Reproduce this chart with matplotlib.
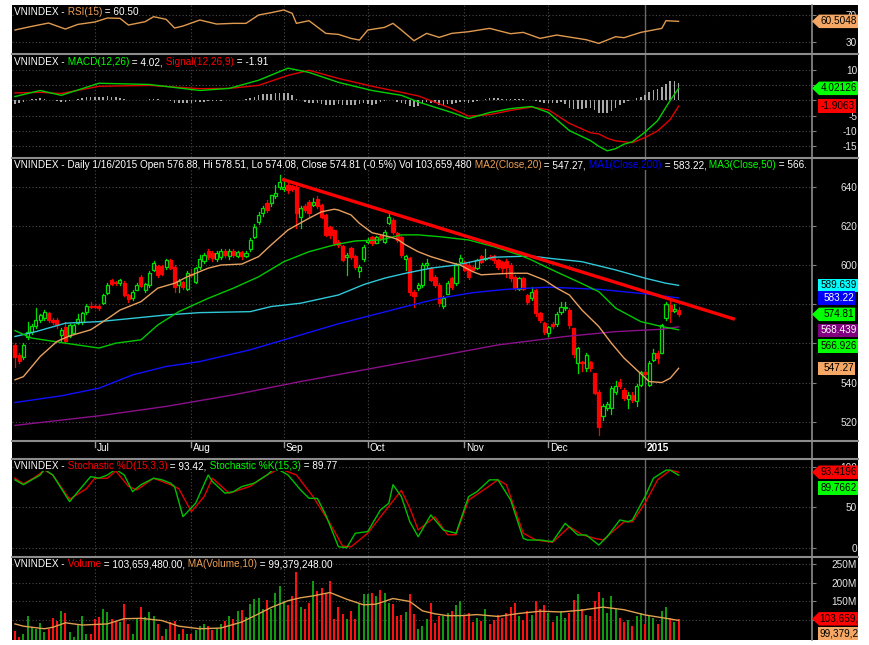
import numpy as np
import matplotlib
matplotlib.use("Agg")
import matplotlib.pyplot as plt
from matplotlib.patches import Rectangle, Polygon
from matplotlib.lines import Line2D
from matplotlib.transforms import Bbox

plt.rcParams['font.family'] = ['Liberation Sans', 'DejaVu Sans']

# ---------------- data ----------------
month_labels = ["Jul", "Aug", "Sep", "Oct", "Nov", "Dec", "2015"]
month_start = [19, 42, 64, 84, 107, 127, 150]   # bar index of first session

open_ = [559, 554, 553, 563, 566, 569, 572, 573, 575.5, 572,
         572, 564.5, 568.5, 564, 565.5, 570.5, 571, 576, 579, 579,
         579, 580.5, 585.5, 592.5, 591.5, 591, 591, 584.5, 583, 587.5,
         594, 587.5, 590, 597.5, 599.5, 599.5, 599, 602.5, 599, 590,
         591.5, 588, 595.5, 591.5, 599, 602, 607, 606, 603, 604,
         607, 604.5, 607, 604.5, 606.5, 604.5, 608, 614.5, 622, 626.4,
         631.5, 631.5, 635, 640, 639, 640.8, 640.5, 640, 624.7, 630,
         632.4, 630.7, 633.6, 630.7, 625.6, 619.6, 617.9, 612, 609.7, 604,
         608.6, 604.6, 597.1, 603, 612, 614.5, 611.4, 615, 612, 621.6,
         623, 616.2, 614.5, 603, 603.5, 586, 588.2, 590, 600, 598.5,
         594, 590, 579, 585.3, 593.3, 590.7, 601.7, 601, 600, 599,
         598.4, 604.6, 603, 604, 604.6, 602.6, 601.4, 602, 600, 594,
         587.6, 593.3, 584.7, 583, 587.3, 575.4, 570.3, 565.5, 570, 570,
         576.2, 578, 577, 567.8, 549.9, 550.5, 547.3, 550.7, 544.8, 535.4,
         522.7, 527, 526.9, 535, 540.5, 536.3, 531.5, 533.7, 530.8, 538.8,
         545.6, 538.8, 551.6, 555, 555.3, 572.9, 579.6, 576.7, 576.88]
close = [553, 551, 559, 566, 569, 572, 574.5, 576, 572, 571,
         569.5, 567, 561, 569.5, 569.5, 572.5, 575.5, 579, 578.5, 578.5,
         578, 584.5, 590, 590.5, 591, 592.5, 584.5, 582.5, 586, 590,
         589.5, 590.5, 596, 601, 595, 595.5, 602.5, 598.5, 589, 592,
         589, 596, 595, 598.5, 603, 605, 604, 603.5, 606, 607,
         605, 607, 605, 606.5, 604.5, 606, 612.8, 619.6, 625.6, 629,
         628.1, 635.8, 636.8, 642.5, 640, 638.3, 639, 626.4, 629, 628,
         626.4, 632.4, 630, 624.7, 615.4, 615.4, 611.1, 610.3, 602.6, 605,
         604, 599.2, 599, 609, 612.8, 611.1, 614.5, 614, 617, 624.7,
         617, 612.8, 605.2, 604.6, 586.4, 584.2, 590, 600, 601, 592.4,
         590, 580.5, 583, 591, 589, 600, 603.5, 597.5, 594, 597.5,
         602.6, 601.7, 603.8, 603.6, 602.6, 599.2, 598.7, 599, 593.3, 588.2,
         593.3, 587.6, 581.3, 586.4, 575.4, 572, 566, 568.3, 569, 575,
         578.5, 578.6, 569.4, 554.6, 557.6, 550, 554, 547.3, 534.6, 517.5,
         527.8, 529, 537.1, 538, 538.3, 532, 533.7, 531.2, 538, 545.6,
         544.4, 549.9, 555, 552.4, 569.4, 580.2, 576.7, 577.6, 574.81]
high = [560, 555, 560, 571, 570, 578, 575, 577, 576, 573,
        573, 568, 571, 570, 570, 575, 576, 580, 581, 580,
        580, 585, 591, 593, 592, 593, 592, 585, 587, 591,
        595, 591, 597, 602, 600, 600, 603, 603, 600, 593,
        592, 597, 598, 599, 605, 606, 608, 607, 607, 608,
        608, 608, 608, 607, 607, 607, 614, 621, 627, 630,
        633, 636, 641, 646, 644, 642, 641, 641, 630, 631,
        633, 634, 635, 631, 626, 620, 618, 613, 610, 606,
        609, 605, 600, 610, 614, 615, 615, 616, 618, 626.5,
        624, 617, 615, 605, 604, 587, 591, 601, 603, 599,
        595, 591, 584, 592, 594, 601, 605, 602, 601, 600,
        603, 605, 608, 605, 605, 603, 602, 603, 601, 595,
        594, 594, 585, 589, 588, 576, 571, 569, 571, 576,
        581, 581, 578, 568, 558, 551, 555, 551, 545, 536,
        529, 530, 538, 541, 542, 537, 535, 535, 539, 546,
        546, 551, 557, 556, 570, 581, 582, 580, 578.51]
low = [548, 550, 552, 562, 565, 568, 571, 572, 571, 570,
       568, 561, 560, 563, 565, 570, 570, 575, 578, 578,
       577, 580, 585, 590, 590, 590, 584, 581, 582, 587,
       589, 586, 589, 597, 594, 595, 598, 598, 586, 586,
       588, 587, 594, 591, 598, 601, 603, 602, 602, 603,
       604, 603, 604, 604, 603, 604, 607, 614, 621, 625,
       627, 630, 634, 639, 638, 637, 638, 619, 619, 627,
       625, 630, 629, 624, 615, 614, 610, 609, 602, 595,
       603, 598, 594, 602, 611, 610, 611, 613, 611, 621,
       616, 612, 604, 597.5, 584.7, 578.8, 587, 589, 599, 592,
       589, 579, 578, 585, 588, 590, 601, 597, 593, 597,
       598, 601, 602.5, 603, 601, 598, 596, 594, 592, 587,
       587, 587, 580, 582, 574, 571, 565, 564, 568, 569,
       575, 577, 568, 553, 545, 546, 546, 546, 534, 513.3,
       521, 526, 524, 534, 537, 531, 527, 530, 528, 538,
       543, 538, 551, 550, 555, 572, 571, 576, 574.08]

volume_m = [70, 55, 62, 112, 81, 77, 93, 68, 77, 105,
            99, 125, 119, 68, 55, 87, 112, 62, 64, 104,
            108, 130, 121, 102, 99, 95, 143, 90, 64, 102,
            134, 108, 123, 112, 90, 58, 77, 95, 99, 62,
            77, 64, 62, 73, 84, 90, 84, 73, 79, 90,
            97, 112, 102, 125, 128, 108, 143, 156, 160, 130,
            154, 130, 174, 191, 152, 141, 165, 228, 134, 130,
            147, 204, 178, 187, 169, 206, 104, 134, 117, 104,
            125, 104, 143, 169, 169, 174, 165, 182, 174, 147,
            143, 112, 114, 121, 169, 117, 77, 84, 102, 147,
            93, 110, 112, 118, 125, 140, 150, 110, 120, 95,
            105, 98, 130, 90, 100, 115, 105, 120, 135, 145,
            110, 100, 125, 115, 150, 130, 140, 120, 95, 110,
            125, 105, 120, 155, 170, 130, 115, 110, 150, 175,
            160, 120, 165, 130, 105, 95, 100, 85, 110, 120,
            90, 115, 105, 90, 125, 135, 105, 95, 103.66]

macd_hist = [-1.2, -0.9, -0.5, 0.0, 0.4, 0.6,
             0.7, 0.6, 0.3, 0.0, -0.3,
             -0.6, -0.5, -0.2, 0.2, 0.5,
             0.8, 1.0, 1.0, 1.0, 1.0,
             1.2, 1.4, 1.3, 1.1, 0.9,
             0.5, 0.2, 0.1, 0.2, 0.3, 0.2,
             0.4, 0.6, 0.4, 0.2, 0.1, -0.2,
             -0.7, -0.9, -1.0, -0.8, -0.7, -0.6, -0.5,
             -0.4, -0.3, -0.3, -0.2, -0.1, 0.0, 0.1,
             0.2, 0.3, 0.3, 0.5, 0.9, 1.3, 1.7,
             2.0, 2.1, 2.3, 2.5, 2.6, 2.5, 2.4,
             1.8, 0.6, 0.0, -0.4, -0.7,
             -0.8, -0.9, -1.1, -1.4, -1.5, -1.4, -1.3,
             -1.5, -1.4, -1.5, -1.6, -1.2, -0.9, -1.1, -1.4,
             -1.1, -0.6, -0.2, 0.1, 0.0, -0.4, -1.0,
             -1.2, -1.8, -2.1, -1.9, -1.2, -0.6, -0.9,
             -1.0, -1.6, -1.6, -1.3, -1.3, -0.9, -0.4,
             -0.5, -0.8, -0.6, -0.2, 0.1, 0.4, 0.7,
             0.8, 0.7, 0.6, 0.6, 0.6, 0.4, 0.5,
             0.4, 0.1, 0.2, -0.3, -0.6, -1.0, -0.9,
             -1.0, -0.9, -0.6, -1.2, -2.4, -2.8, -2.7,
             -2.8, -2.6, -2.6, -3.2, -4.1, -4.1, -4.2,
             -3.4, -2.6, -1.6, -0.8, -0.3, 0.3, 0.8,
             1.2, 1.8, 2.8, 3.4, 3.9, 4.6, 5.4, 6.3, 6.3, 5.93]

rsi_idx = [0, 1, 4, 8, 12, 15, 19, 22, 25, 27, 31, 33, 36, 38, 40, 44, 48, 52, 55, 58,
           61, 64, 66, 67, 70, 74, 77, 80, 82, 84, 88, 90, 92, 95, 98, 101, 104, 108, 113, 118,
           121, 125, 129, 132, 136, 139, 143, 145, 149, 154, 155, 158]
rsi_val = [47.5, 49, 53, 58, 49, 56, 59.5, 65.5, 65, 55, 60, 67.5, 63.5, 50.5, 53.5, 62.5, 56.5, 57.5, 57.5, 70,
           73.5, 77.5, 72.5, 57.5, 61.5, 42.5, 41, 35, 32.5, 47.5, 51.5, 57.5, 47.5, 31.5, 42.5, 36.5, 42.5, 45, 50, 42,
           44, 35, 40, 37, 33, 27.5, 37.5, 36, 44, 50, 61.5, 60.5]

macd_idx = [0, 6, 11, 20, 32, 44, 51, 58, 65, 70, 77, 85, 92, 96, 104, 108, 113, 118, 123, 127,
            132, 137, 139, 141, 143, 145, 147, 150, 153, 155, 156, 158]
macd_val = [1.3, 3.3, 1.7, 5.7, 5.3, 3.3, 4.0, 6.7, 10.7, 9.3, 6.0, 3.3, 1.7, -0.5, -4.0, -6.0, -4.0, -2.7, -2.0, -4.0,
            -10.0, -13.3, -15.2, -16.7, -16.0, -14.5, -13.7, -10.5, -6.7, -2.2, 0.0, 4.02]
signal_val = [2.5, 2.7, 2.3, 4.7, 5.0, 3.9, 4.0, 5.0, 8.3, 10.0, 7.3, 4.7, 2.7, 1.5, -2.7, -5.2, -4.7, -3.3, -2.2, -3.1,
              -7.6, -10.7, -11.1, -12.5, -13.4, -13.7, -14.0, -12.3, -10.1, -7.6, -6.3, -1.91]

ma20_idx = [0, 2, 6, 10, 13, 18, 21, 25, 30, 34, 38, 41, 46, 49, 54, 58, 61, 65, 70, 73,
            76, 77, 80, 82, 85, 89, 91, 93, 96, 99, 103, 106, 109, 111, 115, 118, 122, 126, 129, 132,
            135, 139, 142, 145, 148, 151, 154, 156, 158]
ma20_val = [541.4, 543, 553.3, 561, 563.8, 566.9, 571.1, 577, 581.3, 588.2, 590.7, 594, 598.4, 600, 600.5, 604.3, 610.3, 617.9, 623.9, 627.2,
            628.5, 628.1, 625.6, 621.3, 616.5, 614.5, 613.2, 610.3, 606.8, 604.3, 601.7, 600, 596.6, 595, 595.5, 595.8, 595.8, 592.4, 588.2, 584.7,
            577, 568.6, 560.1, 552.5, 546.5, 540.5, 540, 542.2, 547.27]
ma50_idx = [0, 4, 12, 20, 24, 30, 34, 39, 46, 52, 58, 64, 70, 76, 81, 87, 92, 96, 101, 108,
            114, 120, 123, 127, 134, 139, 143, 149, 154, 158]
ma50_val = [566.5, 562.7, 560.1, 557.6, 560.1, 561.8, 569.4, 576.2, 583, 588.2, 594, 601.7, 606.8, 610.3, 612.3, 612.8, 615.4, 615.4, 614.5, 612.8,
            609.4, 605.2, 602.6, 598.4, 591.5, 586.4, 578, 571.1, 568.6, 566.93]
ma_cyan_idx = [0, 5, 12, 20, 28, 36, 44, 56, 61, 68, 77, 83, 88, 93, 99, 105, 114, 123, 127, 135,
               143, 150, 155, 158]
ma_cyan_val = [563.5, 566, 570.3, 571.1, 572.8, 574.5, 575.7, 576.2, 578.8, 580.5, 584.7, 590, 593.3, 595.8, 598.4, 600, 604, 604.6, 603.5, 601.7,
               597.5, 593.3, 590.7, 589.64]
ma200_idx = [0, 11, 20, 28, 36, 44, 56, 68, 77, 93, 101, 109, 117, 127, 139, 150, 158]
ma200_val = [529.8, 533.2, 537.1, 543.9, 548.2, 550.7, 556.7, 564.3, 570, 578.8, 583, 585.9, 587.6, 588.7, 587.6, 585.3, 583.22]
ma_purple_idx = [0, 20, 36, 52, 68, 92, 115, 131, 143, 154, 158]
ma_purple_val = [518.1, 523, 527.8, 533.7, 540.5, 550, 559.2, 563.5, 566, 567.2, 568.44]

trend_x = [63.6, 171.4]
trend_y = [643.8, 572.3]

stk_idx = [0, 2, 6, 7, 9, 13, 16, 18, 20, 22, 24, 26, 28, 30, 33, 35, 37, 38, 40, 43,
           46, 47, 50, 52, 54, 57, 60, 62, 65, 68, 70, 72, 74, 77, 79, 81, 84, 87, 89, 90,
           92, 94, 96, 99, 102, 105, 108, 110, 113, 115, 118, 121, 122, 125, 128, 131, 134, 136, 139, 141,
           144, 146, 147, 150, 152, 155, 156, 158]
stk_val = [84, 78, 90, 97, 90, 57, 75.6, 88, 86, 90, 97, 90, 69.4, 78, 86, 84, 80, 75.6, 38.4, 55,
           90, 82, 67.4, 69.4, 75.6, 80, 90, 99, 90, 71.5, 61.2, 61, 40.5, 1.2, 0, 17.8, 20, 46.7, 55, 78,
           63.2, 32.2, 13.6, 40.5, 21.9, 17.8, 63.2, 69.4, 84, 84, 59.1, 11.6, 9.5, 9.5, 7.5, 30.2, 15.7, 15.7, 3.3, 13.6,
           34.3, 32.2, 34.3, 63.2, 86, 96, 96, 89.77]
std_idx = [0, 2, 5, 7, 9, 13, 17, 19, 22, 24, 27, 29, 33, 37, 39, 42, 45, 47, 51, 56,
           60, 63, 67, 71, 75, 78, 80, 84, 87, 92, 94, 96, 100, 103, 105, 108, 112, 115, 117, 121,
           124, 128, 132, 135, 138, 140, 145, 147, 150, 153, 156, 158]
std_val = [86, 79, 88, 96, 90, 60, 73, 86, 86, 95, 76, 71.5, 86, 78, 73, 44.6, 63, 86, 67.4, 76,
           90, 98, 90, 63, 30, 2, 1, 18, 38, 71, 49, 22, 38, 16, 16, 59, 73, 84, 78, 18,
           9.5, 6.6, 26, 16, 11.6, 9.5, 32, 32, 55, 84, 96, 93.42]

volma_idx = [0, 2, 7, 9, 12, 16, 22, 26, 30, 35, 39, 44, 49, 54, 58, 61, 65, 68, 71, 75,
             79, 83, 86, 90, 94, 97, 100, 103, 106, 110, 115, 120, 125, 130, 135, 140, 145, 150, 155, 158]
volma_val = [90, 84, 77, 81, 93, 87, 90, 104, 105, 99, 84, 77, 79, 95, 117, 134, 152, 160, 165, 174,
             156, 141, 143, 158, 150, 125, 117, 112, 112, 115, 110, 118, 124, 122, 127, 135, 128, 114, 105, 99.38]

# ---------------- styling ----------------
W, H = 869, 645
GRID = "#4a4a4a"
SEP = "#8c8c8c"
TXT = "#e6e6e6"
ORANGE = "#eea055"
RED = "#ff0000"
FS = 7.2

fig = plt.figure(figsize=(W / 100, H / 100), dpi=100, facecolor="white")


def fx(px):
    return px / W


def fy(py):
    return 1 - py / H


fig.patches.append(Rectangle((fx(12), fy(640)), fx(858) - fx(12), fy(5) - fy(640),
                             transform=fig.transFigure, fc="black", ec="none", zorder=-5))


def make_panel(ytop, ybot, ylim, ticks, labels):
    ax = fig.add_axes([fx(12), fy(ybot), fx(812) - fx(12), fy(ytop) - fy(ybot)])
    ax.set_facecolor("black")
    for s in ax.spines.values():
        s.set_visible(False)
    ax.set_xlim(-0.71, 189.76)
    ax.set_ylim(*ylim)
    ax.set_xticks([])
    ax.yaxis.tick_right()
    ax.set_yticks(ticks, labels)
    ax.tick_params(axis="y", length=3, width=0.8, color="#808080", labelcolor=TXT,
                   labelsize=FS, pad=29.5)
    for lbl in ax.get_yticklabels():
        lbl.set_ha("right")
    ax.set_axisbelow(True)
    ax.grid(axis="y", color=GRID, ls=(0, (1, 2)), lw=0.8)
    for m, lab in zip(month_start, month_labels):
        if lab == "2015":
            ax.axvline(m, color="#6a6a6a", lw=1.0, zorder=1)
        else:
            ax.axvline(m, color=GRID, ls=(0, (1, 2)), lw=0.8, zorder=1)
    return ax


def title(ax, parts, clip_px=None):
    prev = None
    for s, c in parts:
        kw = dict(color=c, fontsize=FS, zorder=20, annotation_clip=False,
                  bbox=dict(boxstyle="square,pad=0", fc="black", ec="none"))
        if prev is None:
            t = ax.annotate(s, xy=(0, 1), xycoords="axes fraction", xytext=(1.5, -1.5),
                            textcoords="offset points", ha="left", va="top", **kw)
        else:
            t = ax.annotate(s, xy=(1, 0), xycoords=prev, ha="left", va="bottom", **kw)
        if clip_px is not None:
            t.set_clip_box(Bbox.from_extents(0, 0, clip_px, H))
            t.set_clip_on(True)
        prev = t


def tag(ax, value, label, fc, tc, arrow=False, dy=0, right=858, clip=False):
    yc = H - ax.transData.transform((0, value))[1] + dy
    h = 13.5
    if arrow:
        pts = [(812, yc), (819, yc - h / 2), (right, yc - h / 2), (right, yc + h / 2), (819, yc + h / 2)]
    else:
        pts = [(818, yc - h / 2), (right, yc - h / 2), (right, yc + h / 2), (818, yc + h / 2)]
    fig.patches.append(Polygon([(fx(a), fy(b)) for a, b in pts], closed=True,
                               transform=fig.transFigure, fc=fc, ec="none", zorder=5))
    if clip:
        t = fig.text(fx(819.5), fy(yc), label, color=tc, fontsize=FS, ha="left", va="center", zorder=6)
        t.set_clip_box(Bbox.from_extents(812, 0, 858, H))
        t.set_clip_on(True)
    else:
        fig.text(fx(right - 1), fy(yc), label, color=tc, fontsize=FS, ha="right", va="center", zorder=6)


# ---------------- RSI ----------------
ax_rsi = make_panel(5, 53, (13.1, 85.0), [70, 30], ["70", "30"])
ax_rsi.plot(rsi_idx, rsi_val, color="#e09a50", lw=1.0, zorder=3)
title(ax_rsi, [("VNINDEX -", "white"), (" RSI(15)", ORANGE), (" = 60.50", "white")])

# ---------------- MACD ----------------
ax_macd = make_panel(55, 157, (-18.75, 15.07), [10, 5, 0, -5, -10, -15],
                     ["10", "5", "", "-5", "-10", "-15"])
bars = np.arange(len(close))
ax_macd.bar(bars, macd_hist, width=0.35, color="#a8a8a8", zorder=2)
ax_macd.plot(macd_idx, signal_val, color="#e00000", lw=1.0, zorder=3)
ax_macd.plot(macd_idx, macd_val, color="#00d000", lw=1.0, zorder=4)
title(ax_macd, [("VNINDEX -", "white"), (" MACD(12,26)", "#00ff00"), (" = 4.02,", "white"),
                (" Signal(12,26,9)", RED), (" = -1.91", "white")])

# ---------------- price ----------------
ax_p = make_panel(158, 441, (510.14, 654.66), [640, 620, 600, 580, 560, 540, 520],
                  ["640", "620", "600", "", "", "540", "520"])
ax_p.plot(ma_purple_idx, ma_purple_val, color="#8a108a", lw=1.0, zorder=4)
ax_p.plot(ma200_idx, ma200_val, color="#1010ff", lw=1.0, zorder=4)
ax_p.plot(ma_cyan_idx, ma_cyan_val, color="#30c8d8", lw=1.0, zorder=4)
ax_p.plot(ma50_idx, ma50_val, color="#00c800", lw=1.0, zorder=4)
ax_p.plot(ma20_idx, ma20_val, color="#e8a060", lw=1.0, zorder=4)
for i in range(len(close)):
    up = close[i] >= open_[i]
    col = "#00e000" if up else RED
    ax_p.plot([i, i], [low[i], high[i]], color=col, lw=0.9, zorder=2)
    bot = min(open_[i], close[i])
    hgt = max(abs(close[i] - open_[i]), 0.4)
    ax_p.add_patch(Rectangle((i - 0.36, bot), 0.72, hgt, fc="black" if up else RED,
                             ec=col, lw=0.9, zorder=3))
ax_p.plot(trend_x, trend_y, color=RED, lw=2.4, zorder=5, solid_capstyle="butt")
title(ax_p, [("VNINDEX - Daily 1/16/2015 Open 576.88, Hi 578.51, Lo 574.08, Close 574.81 (-0.5%) Vol 103,659,480", "white"),
             (" MA2(Close,20)", ORANGE), (" = 547.27,", "white"),
             (" MA1(Close,200)", "#0000ff"), (" = 583.22,", "white"),
             (" MA3(Close,50)", "#00ff00"), (" = 566.93", "white")], clip_px=806)

# month labels below price panel
xt = ax_p.get_xaxis_transform()
for m, lab in zip(month_start, month_labels):
    ax_p.plot([m, m], [0, -6 / 283], transform=xt, clip_on=False, color="#9a9a9a", lw=1.0)
    ax_p.annotate(lab, xy=(m, 0), xycoords=xt, xytext=(1.5, -1.5), textcoords="offset points",
                  ha="left", va="top", color="white", fontsize=FS,
                  fontweight="bold" if lab == "2015" else "normal", annotation_clip=False)

# ---------------- stochastic ----------------
ax_st = make_panel(459, 556, (-10.3, 109.8), [100, 50, 0], ["100", "50", "0"])
ax_st.plot(std_idx, std_val, color="#e00000", lw=1.0, zorder=3)
ax_st.plot(stk_idx, stk_val, color="#00c000", lw=1.0, zorder=4)
title(ax_st, [("VNINDEX -", "white"), (" Stochastic %D(15,3,3)", RED), (" = 93.42,", "white"),
              (" Stochastic %K(15,3)", "#00ff00"), (" = 89.77", "white")])

# ---------------- volume ----------------
ax_v = make_panel(557, 640, (47, 269), [250, 200, 150, 100], ["250M", "200M", "150M", ""])
vcols = ["#109a10" if c >= o else "#ff1010" for o, c in zip(open_, close)]
ax_v.bar(bars, volume_m, width=0.45, color=vcols, zorder=2)
ax_v.plot(volma_idx, volma_val, color="#e0a050", lw=1.0, zorder=3)
title(ax_v, [("VNINDEX -", "white"), (" Volume", RED), (" = 103,659,480.00,", "white"),
             (" MA(Volume,10)", ORANGE), (" = 99,379,248.00", "white")])

# ---------------- separators ----------------
for yy in [54, 157.5, 441, 458.5, 556.5]:
    fig.lines.append(Line2D([fx(12), fx(858)], [fy(yy), fy(yy)], transform=fig.transFigure,
                            color=SEP, lw=1.5, zorder=4))
fig.lines.append(Line2D([fx(812), fx(812)], [fy(5), fy(640)], transform=fig.transFigure,
                        color=SEP, lw=1.2, zorder=4))

# ---------------- value tags ----------------
tag(ax_rsi, 60.5048, "60.5048", "#f5a865", "black", arrow=True)
tag(ax_macd, 4.02126, "4.02126", "#00ff00", "black", arrow=True)
tag(ax_macd, -1.9063, "-1.9063", "#ff0000", "black", right=856)
tag(ax_p, 589.639, "589.639", "#00ffff", "black")
tag(ax_p, 583.22, "583.22", "#0000ff", "white", right=855)
tag(ax_p, 574.81, "574.81", "#00ff00", "black", arrow=True, right=855)
tag(ax_p, 568.439, "568.439", "#800080", "white", dy=3.5)
tag(ax_p, 566.926, "566.926", "#00ff00", "black", dy=16)
tag(ax_p, 547.27, "547.27", "#f5a865", "black", right=855)
tag(ax_st, 93.4196, "93.4196", "#ff0000", "black", arrow=True)
tag(ax_st, 89.7662, "89.7662", "#00ff00", "black", dy=13)
tag(ax_v, 103.659, "103,659,480", "#ff0000", "black", arrow=True, clip=True)
tag(ax_v, 99.379, "99,379,248", "#f5a865", "black", dy=13, clip=True)

fig.savefig("out.png", dpi=100, facecolor="white")
